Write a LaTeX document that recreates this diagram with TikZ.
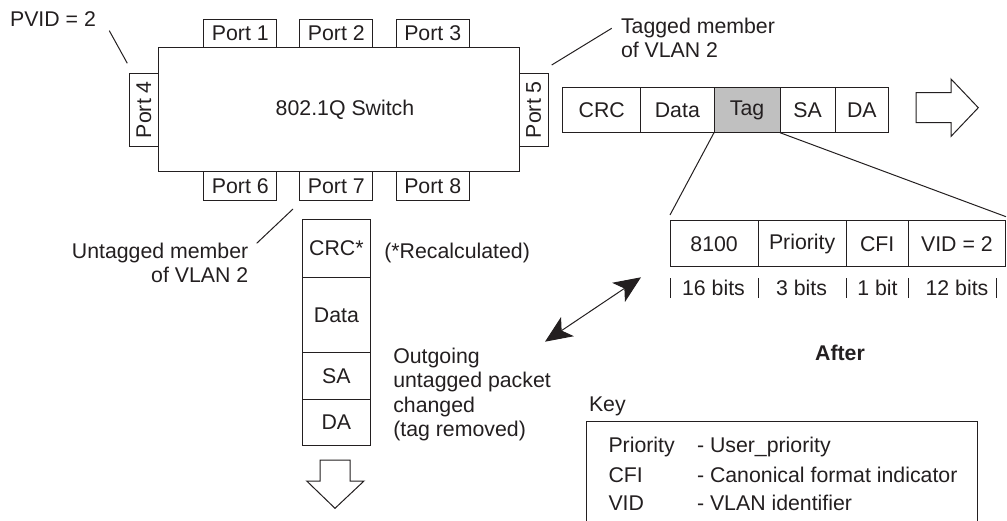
\documentclass[tikz,border=0pt]{standalone}
\usepackage{fontspec}
\setmainfont{Liberation Sans}
\usetikzlibrary{arrows.meta}
\definecolor{tagfill}{RGB}{192,192,192}
\definecolor{ink}{RGB}{35,31,32}
\begin{document}
\begin{tikzpicture}[x=1pt,y=-1pt,line width=1pt,draw=ink,
  every node/.style={font=\fontsize{21.3}{24.5}\selectfont,inner sep=0pt,outer sep=0pt,text=ink},
  cell/.style={draw=ink,fill=white},
  lbl/.style={align=left},
  tick/.style={line width=1pt},
  dbl/.style={{Stealth[length=27pt,width=23pt,inset=7pt]}-{Stealth[length=27pt,width=23pt,inset=7pt]},line width=1pt},
  blockarrow/.style={draw=ink,fill=white,line width=1pt}]
\useasboundingbox (0,0) rectangle (1007,521);

% switch
\node[cell,minimum width=361,minimum height=124] (sw) at (338.8,109.7) {};
\node (swlabel) at (345,110) {802.1Q Switch};
\node[cell,minimum width=72.7,minimum height=28.4] (p1) at (240.3,33.5) {Port 1};
\node[cell,minimum width=72.7,minimum height=28.4] (p2) at (336.3,33.5) {Port 2};
\node[cell,minimum width=72.7,minimum height=28.4] (p3) at (432.7,33.5) {Port 3};
\node[cell,minimum width=72.7,minimum height=28.4] (p6) at (240.3,185.9) {Port 6};
\node[cell,minimum width=72.7,minimum height=28.4] (p7) at (336.3,185.9) {Port 7};
\node[cell,minimum width=72.7,minimum height=28.4] (p8) at (432.7,185.9) {Port 8};
\node[cell,rotate=90,minimum width=72.7,minimum height=29] (p4) at (143.8,109.7) {Port 4};
\node[cell,rotate=90,minimum width=72.7,minimum height=29] (p5) at (533.7,109.7) {Port 5};

% annotations
\node (pvid) at (53,19.3) {PVID = 2};
\coordinate (pvidA) at (109.3,30.7);
\coordinate (pvidB) at (127.3,63.3);
\draw (pvidA) -- (pvidB);

\node[lbl,anchor=west] (tagged) at (621,38) {Tagged member\\of VLAN 2};
\coordinate (tgA) at (551.7,65);
\coordinate (tgB) at (611.7,28.3);
\draw (tgA) -- (tgB);

\node[align=right,anchor=east] (untagged) at (248.3,263) {Untagged member\\of VLAN 2};
\coordinate (utA) at (293,209);
\coordinate (utB) at (256.7,243.3);
\draw (utA) -- (utB);

% tagged packet
\node[cell,minimum width=78,minimum height=45.4] (crc) at (601.7,110) {CRC};
\node[cell,minimum width=73.3,minimum height=45.4] (data) at (677.35,110) {Data};
\node[cell,fill=tagfill,minimum width=66,minimum height=45.4] (tag) at (747,110) {Tag};
\node[cell,minimum width=55.3,minimum height=45.4] (sa) at (807.65,110) {SA};
\node[cell,minimum width=53,minimum height=45.4] (da) at (861.8,110) {DA};
\draw[blockarrow] (916,92.7) -- (951,92.7) -- (951,79) -- (978.3,107.7) -- (951,136.4) -- (951,122.7) -- (916,122.7) -- cycle;

% tag expansion
\coordinate (tl) at (670,215);
\coordinate (tr) at (1006,216.7);
\draw (tag.south west) -- (tl);
\draw (tag.south east) -- (tr);
\node[cell,minimum width=88.3,minimum height=45.7] (f1) at (714.15,243.8) {8100};
\node[cell,minimum width=87.7,minimum height=45.7] (f2) at (802.15,243.8) {Priority};
\node[cell,minimum width=62.3,minimum height=45.7] (f3) at (877.15,243.8) {CFI};
\node[cell,minimum width=97.2,minimum height=45.7] (f4) at (956.9,243.8) {VID = 2};
\foreach \tx in {670,758.3,846,908.3,996.7}
  \draw[tick] (\tx,278.3) -- (\tx,298.3);
\node (b1) at (713.5,288.3) {16 bits};
\node (b2) at (801.5,288.3) {3 bits};
\node (b3) at (877.5,288.3) {1 bit};
\node (b4) at (957,288.3) {12 bits};

% double arrow
\coordinate (a1) at (545,341.7);
\coordinate (a2) at (641,277.3);
\draw[dbl] (a1) -- (a2);

\node[font=\fontsize{21.3}{24.5}\selectfont\bfseries] (after) at (840,353) {After};

% untagged packet
\node[cell,minimum width=67.8,minimum height=58.4] (vcrc) at (336.4,248.5) {CRC*};
\node[cell,minimum width=67.8,minimum height=75.3] (vdata) at (336.4,315.35) {Data};
\node[cell,minimum width=67.8,minimum height=46.7] (vsa) at (336.4,376.35) {SA};
\node[cell,minimum width=67.8,minimum height=45.8] (vda) at (336.4,422.6) {DA};
\draw[blockarrow] (320,460) -- (350,460) -- (350,481) -- (364,481) -- (335,508.3) -- (306.7,481) -- (320,481) -- cycle;

\node[anchor=west] (recalc) at (384.3,253.3) {(*Recalculated)};
\node[lbl,anchor=west] (outgoing) at (393.3,394.5) {Outgoing\\untagged packet\\changed\\(tag removed)};

% key
\node[anchor=west] (key) at (589,406) {Key};
\draw (586.7,522) -- (586.7,421.7) -- (977.7,421.7) -- (977.7,522);
\node[anchor=west] (k1) at (608.5,447) {Priority};
\node[anchor=west] (k2) at (608.5,475) {CFI};
\node[anchor=west] (k3) at (608.5,503) {VID};
\node[anchor=west] (d1) at (697,447) {- User\_priority};
\node[anchor=west] (d2) at (697,475) {- Canonical format indicator};
\node[anchor=west] (d3) at (697,503) {- VLAN identifier};
\end{tikzpicture}
\end{document}
